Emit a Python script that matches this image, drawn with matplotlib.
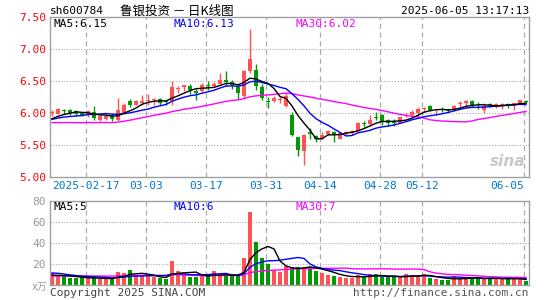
import numpy as np
import pandas as pd
import matplotlib
matplotlib.use("Agg")
import matplotlib.pyplot as plt
import matplotlib.transforms as mtrans

plt.rcParams['font.family'] = ['DejaVu Sans Mono', 'Noto Sans CJK SC']

# daily k-line, 80 trading days (2025-02-07 .. 2025-06-05)
opens = [6.00, 5.99, 6.04, 6.04, 6.03, 6.00, 5.97, 6.02, 5.89, 5.91,
         5.96, 5.89, 6.00, 6.18, 6.13, 6.16, 6.19, 6.21, 6.22, 6.18,
         6.19, 6.37, 6.41, 6.42, 6.35, 6.35, 6.44, 6.42, 6.46, 6.51,
         6.49, 6.41, 6.27, 6.65, 6.67, 6.41, 6.19, 6.19, 6.21, 6.11,
         5.97, 5.62, 5.40, 5.70, 5.64, 5.61, 5.67, 5.71, 5.60, 5.67,
         5.68, 5.72, 5.84, 5.83, 5.94, 5.97, 5.89, 5.85, 5.85, 5.96,
         5.97, 6.00, 6.06, 6.11, 6.04, 6.07, 6.04, 6.04, 6.14, 6.16,
         6.19, 6.10, 6.04, 6.13, 6.12, 6.12, 6.13, 6.11, 6.15, 6.19]
highs = [6.05, 6.08, 6.07, 6.06, 6.05, 6.02, 6.05, 6.11, 5.98, 5.98,
         6.00, 6.23, 6.15, 6.22, 6.20, 6.28, 6.30, 6.24, 6.24, 6.19,
         6.50, 6.42, 6.44, 6.46, 6.37, 6.47, 6.50, 6.48, 6.62, 6.66,
         6.51, 6.45, 6.67, 7.32, 6.76, 6.46, 6.25, 6.27, 6.27, 6.31,
         6.02, 5.63, 5.67, 5.76, 5.66, 5.71, 5.74, 5.72, 5.71, 5.72,
         5.74, 5.86, 5.88, 5.97, 6.02, 5.98, 5.91, 5.90, 5.94, 6.00,
         6.05, 6.10, 6.10, 6.13, 6.07, 6.09, 6.06, 6.13, 6.18, 6.20,
         6.20, 6.17, 6.16, 6.15, 6.16, 6.16, 6.16, 6.16, 6.21, 6.20]
lows = [5.95, 5.98, 5.98, 5.97, 5.96, 5.95, 5.94, 5.89, 5.87, 5.89,
        5.87, 5.88, 5.98, 6.09, 6.12, 6.13, 6.12, 6.13, 6.12, 6.12,
        6.12, 6.31, 6.35, 6.30, 6.20, 6.33, 6.36, 6.40, 6.45, 6.42,
        6.37, 6.22, 6.22, 6.63, 6.36, 6.20, 6.08, 6.17, 6.16, 6.09,
        5.64, 5.33, 5.18, 5.60, 5.55, 5.59, 5.65, 5.54, 5.59, 5.65,
        5.66, 5.70, 5.78, 5.79, 5.89, 5.81, 5.80, 5.80, 5.84, 5.93,
        5.96, 5.98, 6.01, 6.03, 5.97, 6.02, 6.01, 6.03, 6.10, 6.08,
        6.10, 6.06, 6.00, 6.10, 6.08, 6.07, 6.08, 6.04, 6.14, 6.16]
closes = [6.01, 6.06, 6.03, 6.00, 5.99, 5.97, 6.03, 5.92, 5.95, 5.96,
          5.90, 6.05, 6.13, 6.13, 6.18, 6.19, 6.20, 6.22, 6.16, 6.17,
          6.41, 6.38, 6.43, 6.36, 6.32, 6.44, 6.42, 6.46, 6.51, 6.48,
          6.44, 6.31, 6.65, 6.84, 6.42, 6.24, 6.17, 6.24, 6.22, 6.27,
          5.65, 5.42, 5.65, 5.67, 5.59, 5.66, 5.72, 5.66, 5.68, 5.71,
          5.72, 5.84, 5.83, 5.89, 5.92, 5.86, 5.84, 5.84, 5.93, 5.97,
          6.02, 6.06, 6.08, 6.05, 6.05, 6.04, 6.03, 6.11, 6.15, 6.19,
          6.11, 6.08, 6.11, 6.12, 6.13, 6.13, 6.12, 6.15, 6.20, 6.17]
# volume in 10k lots
volumes = [11, 8.5, 8.5, 6.3, 6.3, 7.3, 6.3, 7.3, 5.3, 5.3,
           6.3, 12.7, 11.7, 14.3, 8.5, 8.5, 8.5, 7.3, 6.3, 5.3,
           23.2, 13.6, 9.5, 7.9, 7.3, 9.5, 8.5, 13.6, 8.5, 8.5,
           8.5, 8.5, 26, 70, 41.4, 26, 20, 14.3, 12.7, 18,
           16.8, 17, 17, 17.5, 13.3, 11, 9.5, 8.9, 7.9, 6.9,
           6.9, 9.5, 7.3, 10.4, 10.4, 7.3, 7.3, 7.3, 7.3, 10.4,
           9.5, 8.5, 10.4, 6.3, 5.3, 4.7, 4.7, 8.5, 6.3, 6.3,
           7.0, 6.3, 6.3, 6.3, 6.3, 5.3, 5.3, 7.0, 6.0, 3.4]

# the 29 sessions before the window - only needed so the MA lines start at the left edge
prev_closes = [6.05, 6.02, 6.00, 6.03, 5.98, 5.95, 5.97, 5.93, 5.96, 5.91,
               5.80, 5.72, 5.65, 5.60, 5.62, 5.66, 5.63, 5.65, 5.68, 5.67,
               5.85, 5.88, 5.90, 5.92, 5.90, 5.87, 5.89, 5.90, 5.88]
prev_volumes = [6.5, 7.0, 7.5, 6.8, 7.2, 6.0, 6.5, 7.8, 7.0, 6.9,
                7.5, 7.0, 6.8, 7.2, 7.5, 7.0, 6.9, 7.3, 7.1, 7.5,
                12.0, 15.5, 14.0, 13.0, 13.0, 10.0, 9.5, 8.5, 8.5]

tick_idx = [6, 16, 26, 36, 45, 55, 62, 79]
tick_labels = ['2025-02-17', '03-03', '03-17', '03-31', '04-14', '04-28', '05-12', '06-05']

RED = '#ff5252'
GREEN = '#009900'
GRID = '#aaaaaa'
FRAME = '#a0a0a0'
W, H = 545, 300

n = len(closes)
x = np.arange(n)
o = np.array(opens); h = np.array(highs); l = np.array(lows); c = np.array(closes)
v = np.array(volumes)
up = c >= o
cols = np.where(up, RED, GREEN)

cs = pd.Series(prev_closes + closes)
vs = pd.Series(prev_volumes + volumes)
ma = {k: cs.rolling(k).mean().values[-n:] for k in (5, 10, 30)}
vma = {k: vs.rolling(k).mean().values[-n:] for k in (5, 10, 30)}

fig = plt.figure(figsize=(W / 100, H / 100), dpi=100)
fig.patch.set_facecolor('white')


def px_axes(left, top, right, bottom):
    return fig.add_axes([left / W, 1 - bottom / H, (right - left) / W, (bottom - top) / H])


def ftext(xp, yp, s, **kw):
    fig.text(xp / W, 1 - yp / H, s, va='center', **kw)


ax1 = px_axes(50, 17, 529, 177)
ax2 = px_axes(50, 201, 529, 285)
for ax in (ax1, ax2):
    ax.set_xlim(-1 / 3, 79.5)
    for s in ax.spines.values():
        s.set_color(FRAME)
        s.set_linewidth(1)
    ax.tick_params(length=0, pad=3)
    ax.set_xticks([])
    for i in tick_idx:
        ax.axvline(i - 0.3, color=GRID, lw=0.9, ls=(0, (4, 3)), zorder=0)

# price panel
ax1.set_ylim(5.0, 7.5)
for yv in (5.5, 6.0, 6.5, 7.0):
    ax1.axhline(yv, color=GRID, lw=0.8, ls=(0, (1, 1.5)), zorder=0)
ax1.set_yticks([5.0, 5.5, 6.0, 6.5, 7.0, 7.5])
ax1.set_yticklabels(['%.2f' % t for t in [5.0, 5.5, 6.0, 6.5, 7.0, 7.5]],
                    color='#ff0000', fontsize=8)
ax1.vlines(x, l, h, colors=cols, lw=1, zorder=2)
body = np.maximum(np.abs(c - o), 0.014)
ax1.bar(x, body, bottom=np.minimum(o, c), width=0.75, color=cols, lw=0, zorder=3)
ax1.plot(x, ma[30], color='#ff00ff', lw=1, zorder=4)
ax1.plot(x, ma[10], color='#0000ff', lw=1, zorder=4)
ax1.plot(x, ma[5], color='black', lw=1, zorder=5)

trans = mtrans.blended_transform_factory(ax1.transData, fig.transFigure)
for i, lab in zip(tick_idx, tick_labels):
    ha = 'right' if lab == tick_labels[-1] else 'center'
    ax1.text(i - 0.3, 1 - 186 / H, lab, transform=trans, ha=ha, va='center',
             color='#0077cc', fontsize=8)

# watermark
fig.text(525 / W, 1 - 162 / H, 'sina', ha='right', va='center', color='#c8c8c8',
         fontsize=11, fontweight='bold', style='italic', family='DejaVu Sans')

# volume panel
ax2.set_ylim(0, 80)
for yv in (20, 40, 60):
    ax2.axhline(yv, color=GRID, lw=0.8, ls=(0, (1, 1.5)), zorder=0)
ax2.set_yticks([20, 40, 60, 80])
ax2.set_yticklabels(['20', '40', '60', '80'], color='#999999', fontsize=8)
ax2.bar(x, v, width=0.82, color=cols, lw=0, zorder=2)
ax2.plot(x, vma[30], color='#ff00ff', lw=1, zorder=4)
ax2.plot(x, vma[10], color='#0000ff', lw=1, zorder=4)
ax2.plot(x, vma[5], color='black', lw=1, zorder=5)
ftext(47, 287, 'x万', ha='right', color='#999999', fontsize=7)

# titles and MA captions
ftext(50, 11, 'sh600784', ha='left', fontsize=8)
ftext(120, 11, '鲁银投资 － 日K线图', ha='left', fontsize=9,
      family=['Noto Sans CJK SC', 'DejaVu Sans'])
ftext(529, 11, '2025-06-05 13:17:13', ha='right', fontsize=8)

ftext(53, 24, 'MA5:%.2f' % ma[5][-1], ha='left', fontsize=8, color='black')
ftext(174, 24, 'MA10:%.2f' % ma[10][-1], ha='left', fontsize=8, color='#0000ff')
ftext(295, 24, 'MA30:%.2f' % ma[30][-1], ha='left', fontsize=8, color='#ff00ff')
ftext(53, 207, 'MA5:%.0f' % vma[5][-1], ha='left', fontsize=8, color='black')
ftext(174, 207, 'MA10:%.0f' % vma[10][-1], ha='left', fontsize=8, color='#0000ff')
ftext(295, 207, 'MA30:%.0f' % vma[30][-1], ha='left', fontsize=8, color='#ff00ff')

ftext(50, 293, 'Copyright 2025 SINA.COM', ha='left', fontsize=8, color='#444444')
ftext(529, 293, 'http://finance.sina.com.cn', ha='right', fontsize=8, color='#555555')

fig.savefig('out.png', dpi=100, facecolor='white')
